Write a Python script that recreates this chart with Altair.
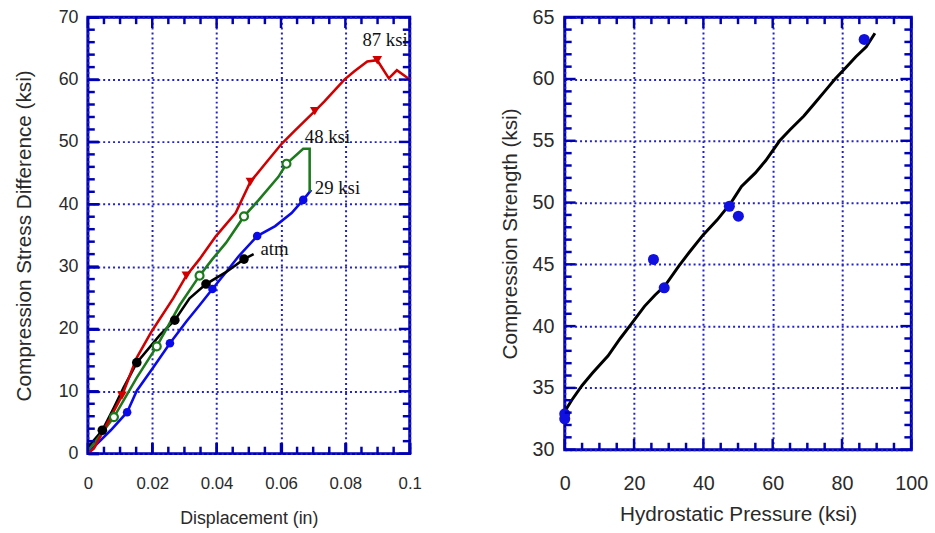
import altair as alt
import pandas as pd

# ---------------- Left panel data (Displacement vs stress difference) ----------------
red_x = [0.0, 0.0019, 0.006, 0.0106, 0.0152, 0.0198, 0.0265, 0.0306, 0.0347, 0.0398, 0.0459,
         0.0505, 0.0551, 0.0602, 0.0643, 0.0705, 0.0735, 0.0797, 0.0827, 0.0868, 0.0899,
         0.0935, 0.096, 0.1]
red_y = [0.0, 0.84, 4.8, 9.3, 15.4, 19.6, 24.9, 28.55, 31.2, 34.9, 38.6,
         43.6, 46.5, 49.7, 51.8, 54.95, 56.5, 60.0, 61.3, 62.9, 63.1,
         60.2, 61.5, 60.0]
green_x = [0.0, 0.0019, 0.0081, 0.0152, 0.0214, 0.0285, 0.0347, 0.0387, 0.0429, 0.0485,
           0.0531, 0.0592, 0.0617, 0.0669, 0.0689, 0.06891]
green_y = [0.5, 1.63, 5.86, 12.2, 17.2, 23.8, 28.55, 31.2, 33.8, 38.05,
           40.7, 44.4, 46.5, 48.9, 48.9, 42.0]
blue_x = [0.0, 0.0019, 0.0071, 0.0122, 0.0152, 0.0203, 0.0255, 0.0306, 0.0347, 0.0387,
          0.0429, 0.0469, 0.0526, 0.0582, 0.0633, 0.0669, 0.0694]
blue_y = [0.0, 1.1, 3.75, 6.65, 10.1, 13.8, 17.7, 21.2, 23.8, 26.4,
          29.1, 31.7, 34.9, 36.5, 38.6, 40.7, 42.3]
black_x = [0.0, 0.0045, 0.0081, 0.0111, 0.0152, 0.0224, 0.027, 0.0316, 0.0367, 0.0429,
           0.0485, 0.0515]
black_y = [1.0, 3.75, 7.4, 10.6, 14.6, 19.05, 21.4, 24.9, 27.2, 29.1, 31.2, 32.0]

red_mx = [0.0106, 0.0306, 0.0505, 0.0705, 0.0899]
red_my = [9.3, 28.55, 43.6, 54.95, 63.1]
green_mx = [0.0081, 0.0214, 0.0347, 0.0485, 0.0617]
green_my = [5.86, 17.2, 28.55, 38.05, 46.5]
blue_mx = [0.0122, 0.0255, 0.0387, 0.0526, 0.0669]
blue_my = [6.65, 17.7, 26.4, 34.9, 40.7]
black_mx = [0.0045, 0.0152, 0.027, 0.0367, 0.0485]
black_my = [3.75, 14.6, 21.4, 27.2, 31.2]

label_text = ["87 ksi", "48 ksi", "29 ksi", "atm"]
label_x = [0.0853, 0.0674, 0.0705, 0.0536]
label_y = [66.4, 50.7, 42.55, 32.8]

left_x_major = [0, 0.02, 0.04, 0.06, 0.08, 0.1]
left_x_minor = [0.005, 0.01, 0.015, 0.025, 0.03, 0.035, 0.045, 0.05, 0.055,
                0.065, 0.07, 0.075, 0.085, 0.09, 0.095]
left_y_major = [0, 10, 20, 30, 40, 50, 60, 70]
left_y_minor = [2, 4, 6, 8, 12, 14, 16, 18, 22, 24, 26, 28, 32, 34, 36, 38,
                42, 44, 46, 48, 52, 54, 56, 58, 62, 64, 66, 68]

# ---------------- Right panel data (Hydrostatic pressure vs strength) ----------------
pt_x = [0.0, 0.0, 25.6, 28.7, 47.5, 50.1, 86.4]
pt_y = [32.5, 32.9, 45.4, 43.1, 49.7, 48.9, 63.2]
fit_x = [0, 2, 5, 8, 12.5, 16, 19, 23, 26, 29, 33, 36, 40, 44, 48, 51, 55, 58, 62, 65,
         69, 72, 75, 78, 81, 84, 87, 89.5]
fit_y = [33.1, 34.0, 35.2, 36.2, 37.6, 39.0, 40.1, 41.6, 42.5, 43.3, 44.9, 46.0, 47.4,
         48.6, 50.0, 51.3, 52.4, 53.4, 55.0, 55.9, 57.0, 58.0, 59.0, 60.0, 60.9, 61.8,
         62.6, 63.7]

right_x_major = [0, 20, 40, 60, 80, 100]
right_x_minor = [5, 10, 15, 25, 30, 35, 45, 50, 55, 65, 70, 75, 85, 90, 95]
right_y_major = [30, 35, 40, 45, 50, 55, 60, 65]
right_y_minor = [v for v in range(31, 65) if v % 5 != 0]

# ---------------- Styling ----------------
AX = "#0000B4"
GRID = "#2222CC"
TXT = "#2a2a2a"
FONT = "Liberation Sans"
RED, GREEN, BLUE, BLACK = "#D00000", "#1C7A1C", "#0A0AE8", "#000000"


def make_axis(values, title, lp, tp, fs, tfs, fmt=None, inward=False):
    kw = dict(values=values, title=title, grid=True, gridColor=GRID, gridDash=[2, 3],
              gridWidth=2, domain=False, labelPadding=lp,
              titlePadding=tp, labelFont=FONT, labelFontSize=fs, labelColor=TXT,
              titleFont=FONT, titleFontSize=tfs, titleColor=TXT,
              titleFontWeight="normal", labelFlush=False, labelOverlap=False)
    if inward:
        kw.update(ticks=True, tickSize={"expr": "-11"}, tickColor=AX, tickWidth=2.5)
    else:
        kw["ticks"] = False
    if fmt:
        kw["format"] = fmt
    return alt.Axis(**kw)


def tick_layers(xs, ys, xax, yax, xmaj, xmin, ymaj, ymin, W, H):
    """Inward ticks on all four sides, drawn with tick marks through the shared scales."""
    layers = []
    for vals, L in [(xmaj, 11), (xmin, 7)]:
        base = alt.Chart(pd.DataFrame({"tx": vals})).mark_tick(
            color=AX, thickness=2.5, size=L, orient="vertical", opacity=1)
        xe = alt.X("tx:Q", scale=xs, axis=xax)
        layers.append(base.encode(x=xe, y=alt.value(H - L / 2)))
        layers.append(base.encode(x=xe, y=alt.value(L / 2)))
    for vals, L in [(ymaj, 11), (ymin, 7)]:
        base = alt.Chart(pd.DataFrame({"ty": vals})).mark_tick(
            color=AX, thickness=2.5, size=L, orient="horizontal", opacity=1)
        ye = alt.Y("ty:Q", scale=ys, axis=yax)
        layers.append(base.encode(y=ye, x=alt.value(L / 2)))
        layers.append(base.encode(y=ye, x=alt.value(W - L / 2)))
    return layers


# ---------------- Left chart ----------------
LW, LH = 326, 442
lxs = alt.Scale(domain=[0, 0.1], nice=False, zero=False)
lys = alt.Scale(domain=[0, 70], nice=False, zero=False)
lxa = make_axis(left_x_major, "Displacement (in)", 33, 19, 17, 18, fmt="~g", inward=True)
lya = make_axis(left_y_major, "Compression Stress Difference (ksi)", 21, 24, 18, 21,
                inward=True)
LX = alt.X("x:Q", scale=lxs, axis=lxa)
LY = alt.Y("y:Q", scale=lys, axis=lya)


def series_line(xv, yv, col):
    return alt.Chart(pd.DataFrame({"x": xv, "y": yv})).mark_line(
        color=col, strokeWidth=2.6).encode(x=LX, y=LY)


red_l = series_line(red_x, red_y, RED)
green_l = series_line(green_x, green_y, GREEN)
blue_l = series_line(blue_x, blue_y, BLUE)
black_l = series_line(black_x, black_y, BLACK)

red_m = alt.Chart(pd.DataFrame({"x": red_mx, "y": red_my})).mark_point(
    shape="triangle-down", filled=True, color=RED, size=95, opacity=1).encode(x=LX, y=LY)
green_m = alt.Chart(pd.DataFrame({"x": green_mx, "y": green_my})).mark_point(
    shape="circle", filled=True, fill="white", stroke=GREEN, strokeWidth=2.2,
    size=65, opacity=1).encode(x=LX, y=LY)
blue_m = alt.Chart(pd.DataFrame({"x": blue_mx, "y": blue_my})).mark_point(
    shape="circle", filled=True, color=BLUE, size=75, opacity=1).encode(x=LX, y=LY)
black_m = alt.Chart(pd.DataFrame({"x": black_mx, "y": black_my})).mark_point(
    shape="circle", filled=True, color=BLACK, size=95, opacity=1).encode(x=LX, y=LY)

labels = alt.Chart(pd.DataFrame({"t": label_text, "x": label_x, "y": label_y})).mark_text(
    font="Liberation Serif", fontSize=19, color="#111111", align="left",
    baseline="middle").encode(x=LX, y=LY, text="t:N")

left = alt.layer(
    blue_l, black_l, green_l, red_l, black_m, blue_m, green_m, red_m,
    *tick_layers(lxs, lys, lxa, lya, left_x_major, left_x_minor, left_y_major,
                 left_y_minor, LW, LH),
    labels,
).properties(width=LW, height=LH)

# ---------------- Right chart ----------------
RW, RH = 351, 438
rxs = alt.Scale(domain=[0, 100], nice=False, zero=False)
rys = alt.Scale(domain=[30, 65], nice=False, zero=False)
rxa = make_axis(right_x_major, "Hydrostatic Pressure (ksi)", 24, 11, 20, 21)
rya = make_axis(right_y_major, "Compression Strength (ksi)", 11, 12, 20, 21)
RX = alt.X("x:Q", scale=rxs, axis=rxa)
RY = alt.Y("y:Q", scale=rys, axis=rya)

fit = alt.Chart(pd.DataFrame({"x": fit_x, "y": fit_y})).mark_line(
    color="#000000", strokeWidth=3).encode(x=RX, y=RY)
pts = alt.Chart(pd.DataFrame({"x": pt_x, "y": pt_y})).mark_point(
    shape="circle", filled=True, color="#1010E0", size=125, opacity=1).encode(x=RX, y=RY)

right = alt.layer(
    fit, pts,
    *tick_layers(rxs, rys, rxa, rya, right_x_major, right_x_minor, right_y_major,
                 right_y_minor, RW, RH)
).properties(width=RW, height=RH)

chart = alt.hconcat(left, right, spacing=75).properties(
    padding={"left": 12, "top": 2, "right": 5, "bottom": 5},
    background="white",
).configure_view(stroke=AX, strokeWidth=3)

chart.save("out.html", embed_options={"renderer": "svg", "actions": False})
